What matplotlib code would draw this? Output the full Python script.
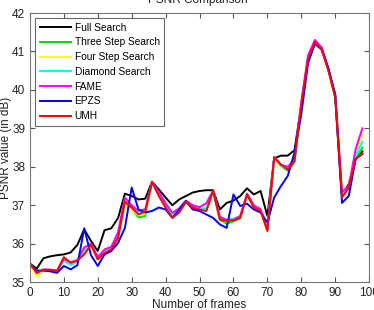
import matplotlib
matplotlib.use("Agg")
import matplotlib.pyplot as plt

# --------------------------------------------------
# DATA
# --------------------------------------------------

frames = list(range(0, 100, 2))

full_search = [35.48, 35.35, 35.62, 35.67, 35.70, 35.72, 35.77, 35.97, 36.37, 36.07,
               35.81, 36.35, 36.40, 36.67, 37.30, 37.24, 37.15, 37.17, 37.61, 37.41,
               37.20, 37.00, 37.15, 37.24, 37.33, 37.37, 37.39, 37.39, 36.89, 37.06,
               37.12, 37.24, 37.44, 37.28, 37.37, 36.72, 38.22, 38.29, 38.29, 38.43,
               39.60, 40.84, 41.25, 41.10, 40.54, 39.89, 37.25, 37.55, 38.20, 38.40]

three_step = [35.48, 35.22, 35.31, 35.31, 35.28, 35.60, 35.48, 35.55, 35.80, 35.98,
              35.60, 35.78, 35.86, 36.18, 37.05, 36.90, 36.68, 36.72, 37.60, 37.26,
              36.96, 36.70, 36.84, 37.08, 36.92, 36.88, 36.86, 37.36, 36.62, 36.52,
              36.58, 36.66, 37.26, 36.96, 36.86, 36.34, 38.22, 38.02, 37.90, 38.12,
              39.60, 40.82, 41.24, 41.05, 40.50, 39.80, 37.22, 37.45, 38.20, 38.50]

four_step = [35.48, 35.15, 35.32, 35.31, 35.29, 35.58, 35.46, 35.55, 35.82, 35.99,
             35.62, 35.80, 35.87, 36.20, 37.00, 36.88, 36.74, 36.78, 37.60, 37.27,
             36.98, 36.72, 36.86, 37.10, 36.94, 36.90, 36.90, 37.37, 36.66, 36.58,
             36.62, 36.70, 37.28, 36.98, 36.88, 36.34, 38.22, 38.03, 37.95, 38.18,
             39.62, 40.84, 41.26, 41.06, 40.52, 39.82, 37.28, 37.48, 38.35, 38.85]

diamond = [35.48, 35.24, 35.33, 35.32, 35.30, 35.55, 35.44, 35.53, 35.85, 35.98,
           35.63, 35.82, 35.88, 36.22, 37.10, 36.95, 36.78, 36.82, 37.60, 37.28,
           37.00, 36.74, 36.88, 37.10, 36.95, 36.92, 36.92, 37.37, 36.68, 36.62,
           36.65, 36.72, 37.28, 36.98, 36.88, 36.36, 38.23, 38.04, 37.97, 38.15,
           39.62, 40.84, 41.26, 41.06, 40.52, 39.82, 37.26, 37.48, 38.30, 38.65]

fame = [35.48, 35.25, 35.33, 35.32, 35.30, 35.60, 35.52, 35.57, 35.90, 36.00,
        35.65, 35.85, 35.92, 36.30, 37.20, 37.00, 36.85, 36.90, 37.60, 37.35,
        37.05, 36.80, 36.92, 37.12, 37.00, 36.95, 37.05, 37.38, 36.70, 36.62,
        36.62, 36.72, 37.30, 37.00, 36.90, 36.36, 38.25, 38.05, 38.00, 38.20,
        39.70, 40.90, 41.30, 41.10, 40.55, 39.85, 37.35, 37.50, 38.45, 39.00]

epzs = [35.48, 35.30, 35.30, 35.28, 35.24, 35.42, 35.33, 35.44, 36.40, 35.70,
        35.42, 35.72, 35.81, 36.02, 36.41, 37.46, 36.89, 36.81, 36.85, 36.94,
        36.89, 36.67, 36.89, 37.11, 36.89, 36.85, 36.76, 36.67, 36.50, 36.41,
        37.28, 36.98, 37.04, 36.89, 36.81, 36.55, 37.20, 37.50, 37.76, 38.37,
        39.37, 40.70, 41.20, 41.05, 40.55, 39.85, 37.06, 37.24, 38.20, 38.33]

umh = [35.48, 35.24, 35.32, 35.32, 35.29, 35.65, 35.50, 35.56, 35.72, 35.97,
       35.59, 35.76, 35.85, 36.15, 37.10, 36.94, 36.76, 36.84, 37.61, 37.24,
       36.94, 36.67, 36.81, 37.09, 36.94, 36.89, 36.85, 37.38, 36.63, 36.59,
       36.60, 36.67, 37.28, 36.94, 36.85, 36.33, 38.25, 38.06, 37.93, 38.15,
       39.60, 40.80, 41.25, 41.05, 40.50, 39.80, 37.20, 37.46, 38.20, 38.35]

names = ["Full Search", "Three Step Search", "Four Step Search", "Diamond Search",
         "FAME", "EPZS", "UMH"]
colors = ["#000000", "#00e000", "#ffff00", "#00ffff", "#ff00ff", "#0000ff", "#ff0000"]

# --------------------------------------------------
# PLOT
# --------------------------------------------------

plt.rcParams["font.family"] = ["Liberation Sans", "DejaVu Sans"]

fig = plt.figure(figsize=(3.74, 3.10), dpi=100)
ax = fig.add_axes([0.080, 0.090, 0.907, 0.868])

series = [full_search, three_step, four_step, diamond, fame, epzs, umh]
for i in range(len(series)):
    ax.plot(frames, series[i], color=colors[i], linewidth=1.4, label=names[i])

ax.set_xlim(0, 100)
ax.set_ylim(35, 42)
ax.set_xticks(range(0, 101, 10))
ax.set_yticks(range(35, 43))
ax.tick_params(direction="in", top=True, right=True, labelsize=8.5,
               length=3.5, color="#555555", labelcolor="#222222")
for sp in ax.spines.values():
    sp.set_color("#777777")

ax.set_xlabel("Number of frames", fontsize=8.5, labelpad=0, color="#222222")
ax.set_ylabel("PSNR value (in dB)", fontsize=8.5, labelpad=0, color="#222222")
fig.text(0.53, 1.0, "PSNR Comparison", ha="center", va="center", fontsize=8.5,
         color="#222222")

leg = ax.legend(loc="upper left", fontsize=7.3, frameon=True, fancybox=False,
                handlelength=3.1, borderpad=0.45, labelspacing=0.47,
                borderaxespad=0.5, handletextpad=0.35)
leg.get_frame().set_edgecolor("#444444")
leg.get_frame().set_linewidth(0.8)

fig.savefig("out.png", dpi=100)
